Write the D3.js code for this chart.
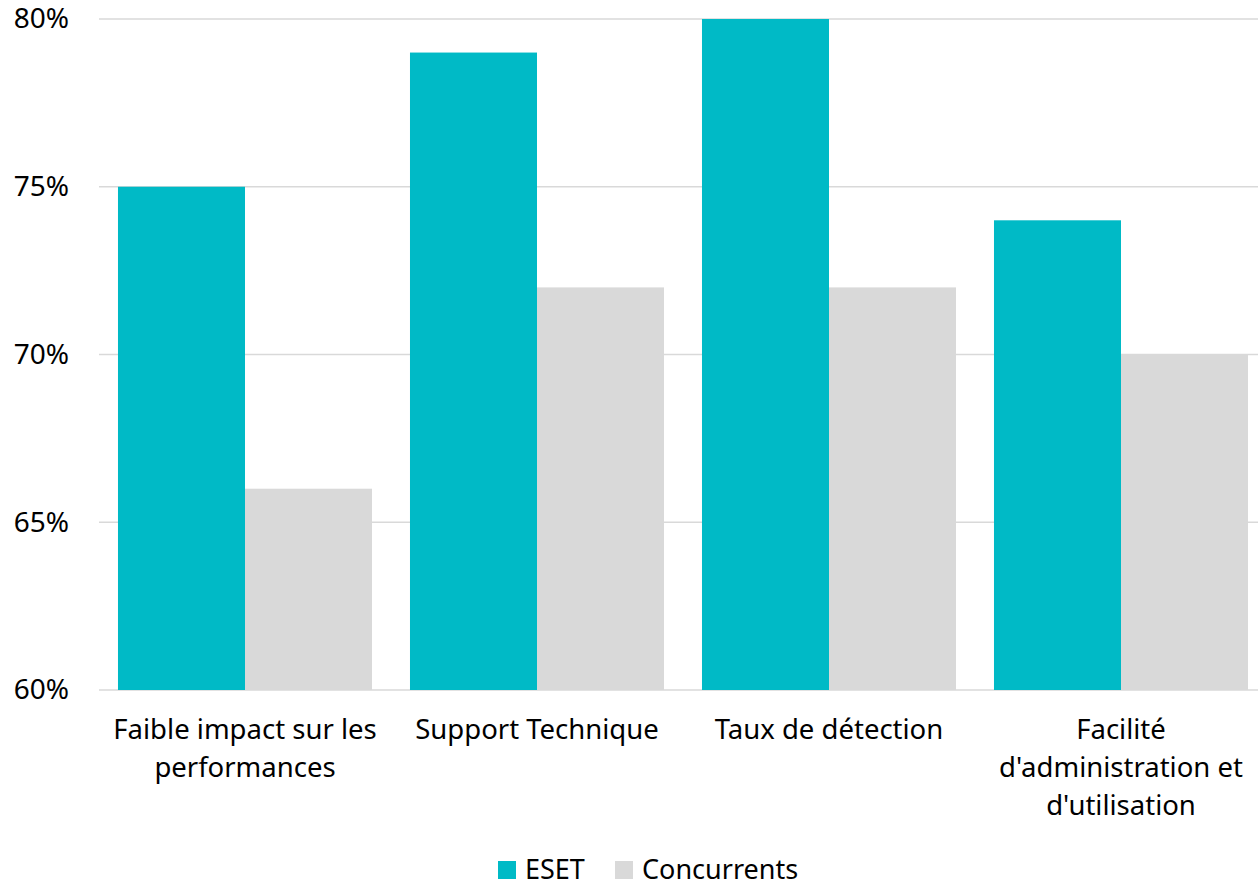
<!DOCTYPE html>
<html>
<head>
<meta charset="utf-8">
<script src="https://cdn.jsdelivr.net/npm/d3@7"></script>
<style>
  html, body { margin: 0; padding: 0; background: #fff; }
  #chart { width: 1258px; height: 884px; }
  text { font-family: "Noto Sans", sans-serif; fill: #000; }
</style>
</head>
<body>
<div id="chart"></div>
<script>
const categories = [
  "Faible impact sur les\nperformances",
  "Support Technique",
  "Taux de détection",
  "Facilité\nd'administration et\nd'utilisation"
];
const series = ["ESET", "Concurrents"];
const esetValues = [75, 79, 80, 74];
const concurrentValues = [66, 72, 72, 70];
const yTicks = [60, 65, 70, 75, 80];
const colors = ["#00BAC6", "#D9D9D9"];

const width = 1258, height = 884;
const margin = { top: 19, right: -9, bottom: 194, left: 99 };
const innerW = width - margin.left - margin.right;
const innerH = height - margin.top - margin.bottom;

const rows = categories.map((c, i) => ({ cat: c, values: [esetValues[i], concurrentValues[i]] }));

const svg = d3.select("#chart").append("svg")
  .attr("width", width)
  .attr("height", height);

const g = svg.append("g")
  .attr("transform", "translate(" + margin.left + "," + margin.top + ")");

const x0 = d3.scaleBand().domain(categories).range([0, innerW]).paddingInner(0.13).paddingOuter(0.065);
const x1 = d3.scaleBand().domain(series).range([0, x0.bandwidth()]);
const y = d3.scaleLinear().domain([60, 80]).range([innerH, 0]);

// gridlines
g.append("g")
  .attr("class", "grid")
  .selectAll("line")
  .data(yTicks)
  .enter().append("line")
  .attr("x1", 0)
  .attr("x2", width - margin.left)
  .attr("y1", d => y(d))
  .attr("y2", d => y(d))
  .attr("stroke", "#D9D9D9")
  .attr("stroke-width", 1.5);

// bars
const groups = g.selectAll(".cat")
  .data(rows)
  .enter().append("g")
  .attr("class", "cat")
  .attr("transform", d => "translate(" + x0(d.cat) + ",0)");

groups.selectAll("rect")
  .data(d => d.values.map((v, i) => ({ key: series[i], value: v })))
  .enter().append("rect")
  .attr("x", d => x1(d.key))
  .attr("y", d => y(d.value))
  .attr("width", x1.bandwidth())
  .attr("height", d => innerH - y(d.value))
  .attr("fill", (d, i) => colors[i]);

// y axis
const yAxis = g.append("g")
  .attr("class", "y axis")
  .call(d3.axisLeft(y).tickValues(yTicks).tickFormat(d => d + "%").tickSize(0).tickPadding(30));
yAxis.select(".domain").remove();
yAxis.selectAll("text")
  .style("font-size", "28px")
  .style("font-family", "'Noto Sans', sans-serif")
  .attr("fill", "#000");

// x axis
const xAxis = g.append("g")
  .attr("class", "x axis")
  .attr("transform", "translate(0," + innerH + ")")
  .call(d3.axisBottom(x0).tickSize(0).tickFormat(""));
xAxis.select(".domain").remove();

xAxis.selectAll(".tick").each(function(d) {
  const lines = d.split("\n");
  const t = d3.select(this).append("text")
    .attr("text-anchor", "middle")
    .attr("fill", "#000")
    .style("font-size", "27.5px");
  lines.forEach((line, i) => {
    t.append("tspan")
      .attr("x", 0)
      .attr("y", 49 + i * 38)
      .text(line);
  });
});

// legend
const legend = svg.append("g")
  .attr("class", "legend")
  .attr("transform", "translate(498,870)");
const legendX = [0, 117];
series.forEach((s, i) => {
  const item = legend.append("g").attr("transform", "translate(" + legendX[i] + ",0)");
  item.append("rect")
    .attr("x", 0).attr("y", -9)
    .attr("width", 18).attr("height", 18)
    .attr("fill", colors[i]);
  item.append("text")
    .attr("x", 27)
    .attr("y", 9)
    .style("font-size", "27px")
    .text(s);
});
</script>
</body>
</html>
